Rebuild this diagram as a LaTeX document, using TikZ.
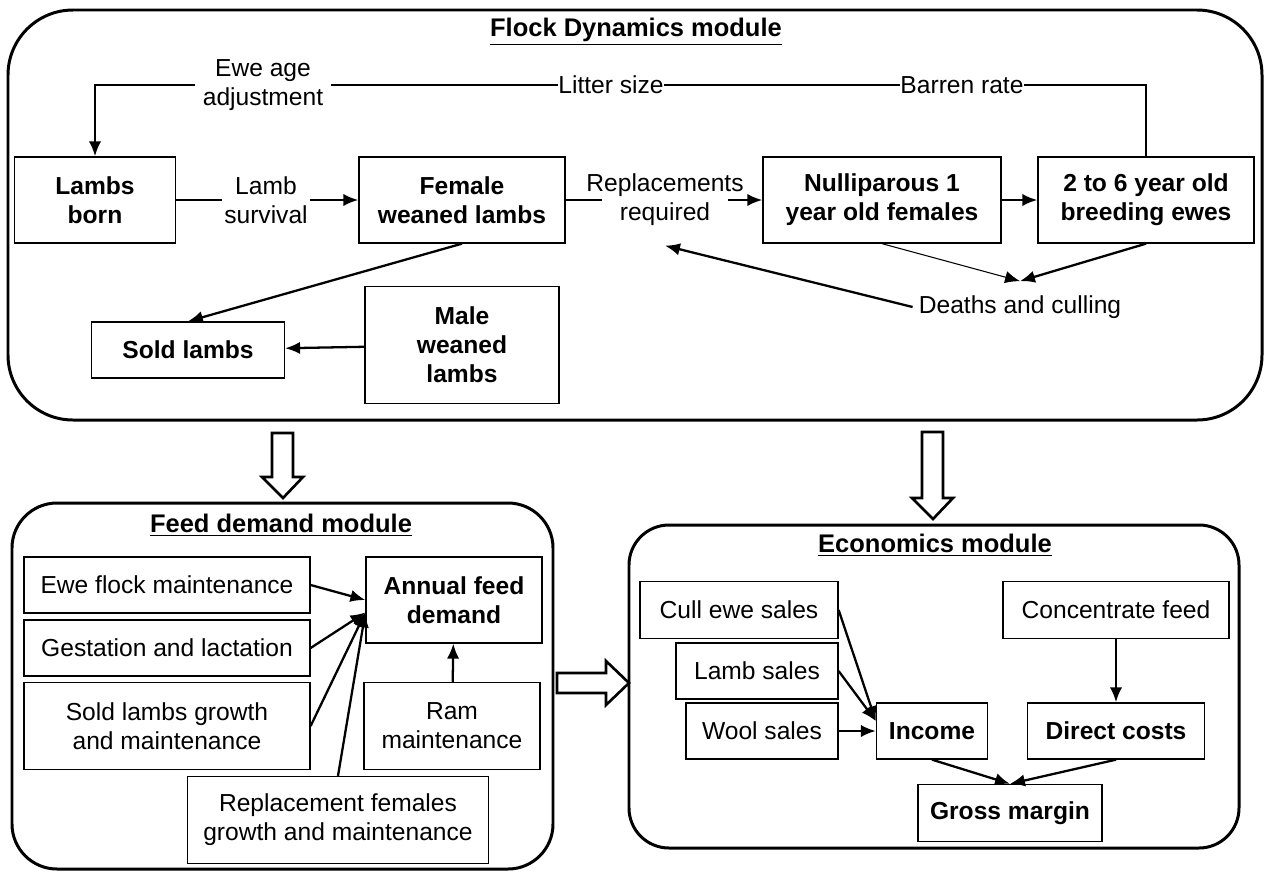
\documentclass[tikz,border=0pt]{standalone}
\usepackage{fontspec}
\setmainfont{Liberation Sans}
\usetikzlibrary{arrows.meta}

\begin{document}
\begin{tikzpicture}[x=0.02cm, y=-0.02cm,
  every node/.style={font=\fontsize{14}{16.5}\selectfont, align=center},
  box/.style={draw, line width=0.75pt, inner sep=2pt},
  bbox/.style={box, font=\fontsize{14}{16.5}\selectfont\bfseries},
  lbl/.style={inner sep=1pt},
  title/.style={font=\fontsize{14.5}{17}\selectfont\bfseries},
  module/.style={line width=1.7pt},
  link/.style={line width=1.3pt},
  flow/.style={link, -{Latex[length=8.5pt, width=7pt]}},
  blockarrow/.style={line width=1.5pt, line join=miter, fill=white}]
  \useasboundingbox (0,0) rectangle (1269,873);

  % Flock dynamics module
  \draw[module, rounded corners=1.3cm] (8,10) rectangle (1262,420);
  \node[title] at (636,32) {\underline{Flock Dynamics module}};
  \node[bbox, minimum width=3.22cm, minimum height=1.72cm] (born) at (95,200) {Lambs\\born};
  \node[bbox, minimum width=4.12cm, minimum height=1.72cm] (fem) at (462,200) {Female\\weaned lambs};
  \node[bbox, minimum width=4.76cm, minimum height=1.72cm] (nulli) at (882,200) {Nulliparous 1\\year old females};
  \node[bbox, minimum width=4.32cm, minimum height=1.72cm] (ewes) at (1146,200) {2 to 6 year old\\breeding ewes};
  \node[bbox, minimum width=3.86cm, minimum height=1.12cm] (sold) at (188,350) {Sold lambs};
  \node[bbox, minimum width=3.88cm, minimum height=2.34cm] (male) at (462,345) {Male\\weaned\\lambs};
  \node[lbl] (surv) at (266,200) {Lamb\\survival};
  \node[lbl] (repl) at (665,200) {Replacements\\required};
  \node[lbl, inner xsep=4pt] (eweage) at (263,85) {Ewe age\\adjustment};
  \node[lbl, inner xsep=0pt] (litter) at (611,85) {Litter size};
  \node[lbl, inner xsep=0pt] (barren) at (962,85) {Barren rate};
  \node[inner ysep=8pt] (deaths) at (1020,307) {Deaths and culling};

  \draw[link] (ewes) |- (barren);
  \draw[link] (barren) -- (litter);
  \draw[link] (litter) -- (eweage);
  \draw[flow] (eweage) -| (born);
  \draw[link] (born) -- (surv);
  \draw[flow] (surv) -- (fem);
  \draw[link, shorten >=-10pt] (fem) -- (repl);
  \draw[flow, shorten <=-10pt] (repl) -- (nulli);
  \draw[flow] (nulli) -- (ewes);
  \draw[flow] (fem.south) -- (sold.north);
  \draw[flow] (male) -- (sold);
  \draw[flow, line width=0.6pt] (nulli.south) -- (deaths.north);
  \draw[flow] (ewes.south) -- (deaths.north);
  \draw[flow] (deaths.west) -- ([yshift=-10pt]repl.south);

  % block arrows between modules
  \draw[blockarrow] (283,498) -- ++(-21,-21) -- ++(10,0) -- ++(0,-44) -- ++(21,0) -- ++(0,44) -- ++(10,0) -- cycle;
  \draw[blockarrow] (933,519) -- ++(-21,-21) -- ++(10,0) -- ++(0,-66) -- ++(21,0) -- ++(0,66) -- ++(10,0) -- cycle;
  \draw[blockarrow] (629,683) -- ++(-23,-22) -- ++(0,12) -- ++(-49,0) -- ++(0,20) -- ++(49,0) -- ++(0,12) -- cycle;

  % Feed demand module
  \draw[module, rounded corners=0.9cm] (12,503) rectangle (553,869);
  \node[title] at (281,525) {\underline{Feed demand module}};
  \node[box, minimum width=5.72cm, minimum height=1.12cm] (ewefl) at (167,585) {Ewe flock maintenance};
  \node[box, minimum width=5.72cm, minimum height=1.12cm] (gest) at (167,648) {Gestation and lactation};
  \node[box, minimum width=5.72cm, minimum height=1.74cm] (soldg) at (167,726) {Sold lambs growth\\and maintenance};
  \node[bbox, minimum width=3.52cm, minimum height=1.72cm] (annual) at (454,600) {Annual feed\\demand};
  \node[box, minimum width=3.52cm, minimum height=1.74cm] (ram) at (452,726) {Ram\\maintenance};
  \node[box, minimum width=6.02cm, minimum height=1.74cm] (repf) at (338,820) {Replacement females\\growth and maintenance};

  \draw[flow] (ewefl.east) -- (annual.west);
  \draw[flow] (gest.east) -- (annual.188);
  \draw[flow] (soldg.east) -- (annual.188);
  \draw[flow] (repf.north) -- (annual.188);
  \draw[flow] (ram) -- (annual);

  % Economics module
  \draw[module, rounded corners=0.8cm] (629,525) rectangle (1239,848);
  \node[title] at (935,545) {\underline{Economics module}};
  \node[box, minimum width=3.96cm, minimum height=1.14cm] (cull) at (739,610) {Cull ewe sales};
  \node[box, minimum width=3.24cm, minimum height=1.12cm] (lsales) at (757,671) {Lamb sales};
  \node[box, minimum width=3.04cm, minimum height=1.12cm] (wool) at (762,731) {Wool sales};
  \node[bbox, minimum width=2.22cm, minimum height=1.12cm] (income) at (932,731) {Income};
  \node[box, minimum width=4.52cm, minimum height=1.14cm] (conc) at (1116,610) {Concentrate feed};
  \node[bbox, minimum width=3.54cm, minimum height=1.12cm] (direct) at (1116,731) {Direct costs};
  \node[bbox, minimum width=3.68cm, minimum height=1.14cm] (gross) at (1010,813) {Gross margin};

  \draw[flow] (cull.east) -- (income.170);
  \draw[flow] (lsales.east) -- (income.170);
  \draw[flow] (wool) -- (income);
  \draw[flow] (conc) -- (direct);
  \draw[flow] (income.south) -- (gross.north);
  \draw[flow] (direct.south) -- (gross.north);
\end{tikzpicture}
\end{document}
